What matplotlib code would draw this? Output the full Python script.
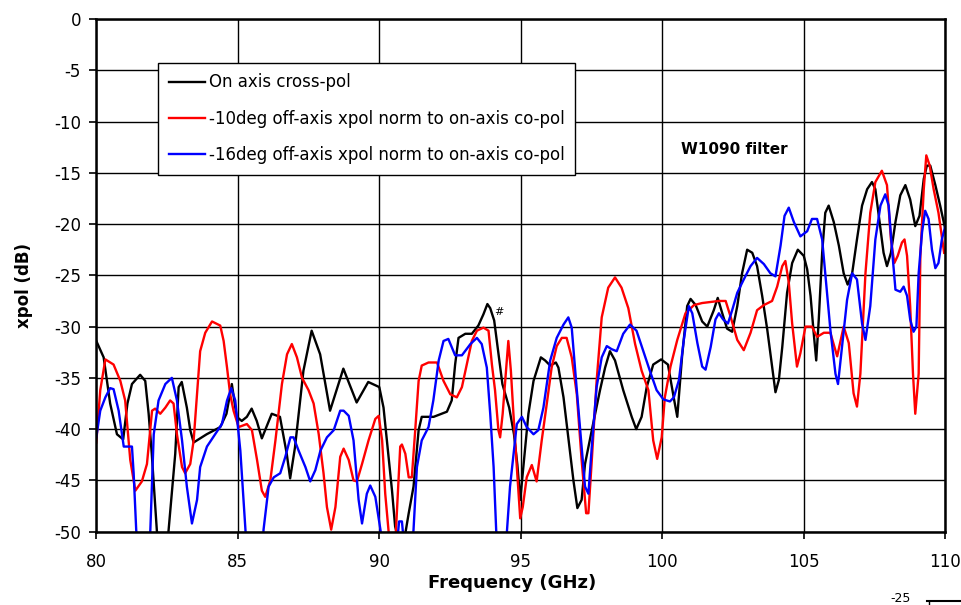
import matplotlib
matplotlib.use("Agg")
import matplotlib.pyplot as plt
from matplotlib.lines import Line2D

## cross-pol of the W1090 filter, three measurements
## values read off the original Excel plot (below -50 just runs off the axis)

freq_onaxis = [80.0, 80.26, 80.49, 80.73, 80.95, 81.1, 81.26, 81.55, 81.73, 81.85,
               81.96, 82.14, 82.3, 82.45, 82.55, 82.79, 82.91, 83.02, 83.2, 83.32,
               83.44, 83.9, 84.38, 84.6, 84.79, 84.96, 85.14, 85.32, 85.49, 85.67,
               85.85, 86.2, 86.49, 86.73, 86.85, 87.02, 87.32, 87.61, 87.91, 88.26,
               88.73, 89.2, 89.61, 90.0, 90.15, 90.3, 90.45, 90.56, 90.7, 90.9,
               91.04, 91.21, 91.39, 91.5, 91.92, 92.39, 92.56, 92.68, 92.8, 93.04,
               93.27, 93.5, 93.68, 93.82, 93.92, 94.06, 94.35, 94.59, 94.76, 94.88,
               94.98, 95.09, 95.27, 95.45, 95.71, 95.86, 96.04, 96.24, 96.33, 96.51,
               96.68, 96.86, 97.0, 97.15, 97.27, 97.51, 97.8, 97.98, 98.15, 98.33,
               98.62, 98.92, 99.08, 99.27, 99.45, 99.68, 99.96, 100.2, 100.41, 100.53,
               100.7, 100.88, 101.0, 101.18, 101.41, 101.59, 101.82, 101.96, 102.12, 102.29,
               102.47, 102.65, 102.82, 103.0, 103.18, 103.35, 103.53, 103.71, 103.88, 104.0,
               104.12, 104.24, 104.41, 104.59, 104.79, 105.0, 105.12, 105.24, 105.35, 105.44,
               105.53, 105.65, 105.76, 105.88, 106.06, 106.24, 106.41, 106.55, 106.71, 106.88,
               107.06, 107.24, 107.41, 107.53, 107.68, 107.82, 107.94, 108.08, 108.24, 108.41,
               108.59, 108.76, 108.94, 109.09, 109.24, 109.35, 109.47, 109.65, 109.82, 110.0]
xpol_onaxis = [-31.4, -33.0, -37.5, -40.5, -41.0, -37.5, -35.6, -34.7, -35.3, -38.5,
               -42.4, -49.9, -53.0, -53.0, -50.0, -42.4, -35.9, -35.4, -37.9, -40.1,
               -41.3, -40.5, -39.8, -38.5, -35.6, -38.8, -39.2, -38.8, -38.0, -39.2,
               -40.9, -38.5, -38.8, -42.4, -44.8, -41.8, -34.3, -30.4, -32.7, -38.2,
               -34.1, -37.4, -35.4, -35.9, -37.9, -42.0, -46.0, -49.5, -51.0, -50.5,
               -48.2, -45.6, -40.1, -38.8, -38.8, -38.3, -37.2, -33.7, -31.1, -30.7,
               -30.7, -29.9, -28.8, -27.8, -28.2, -29.4, -35.6, -37.9, -40.5, -43.5,
               -46.9, -43.7, -38.5, -35.3, -33.0, -33.3, -33.8, -33.5, -34.0, -36.9,
               -40.8, -45.0, -47.7, -46.9, -43.4, -40.1, -36.2, -34.0, -32.4, -33.3,
               -36.2, -38.8, -40.0, -38.8, -35.9, -33.7, -33.2, -33.7, -37.0, -38.8,
               -32.9, -28.0, -27.3, -27.9, -29.5, -30.0, -28.4, -27.2, -28.7, -30.2,
               -30.5, -28.0, -24.8, -22.5, -22.8, -24.1, -27.0, -30.3, -33.9, -36.4,
               -35.2, -32.0, -26.7, -23.8, -22.5, -23.1, -24.4, -27.0, -30.6, -33.3,
               -29.3, -22.8, -18.9, -18.2, -19.8, -22.1, -24.8, -25.9, -24.8, -21.5,
               -18.2, -16.6, -15.9, -16.6, -19.8, -22.8, -24.1, -22.8, -19.8, -17.2,
               -16.2, -17.6, -20.2, -19.2, -15.6, -14.3, -14.3, -16.2, -18.2, -20.5]

freq_10deg = [80.0, 80.14, 80.32, 80.61, 80.85, 81.02, 81.2, 81.38, 81.61, 81.79,
              81.97, 82.08, 82.26, 82.44, 82.61, 82.73, 82.85, 83.03, 83.14, 83.32,
              83.44, 83.56, 83.67, 83.85, 84.09, 84.38, 84.5, 84.62, 84.73, 84.85,
              85.03, 85.32, 85.5, 85.68, 85.85, 85.97, 86.15, 86.33, 86.56, 86.74,
              86.91, 87.09, 87.27, 87.5, 87.68, 87.86, 88.03, 88.15, 88.3, 88.45,
              88.62, 88.74, 88.92, 89.09, 89.21, 89.39, 89.62, 89.86, 89.98, 90.1,
              90.21, 90.33, 90.45, 90.55, 90.62, 90.74, 90.8, 90.92, 91.04, 91.15,
              91.27, 91.39, 91.5, 91.74, 92.04, 92.27, 92.51, 92.74, 92.92, 93.09,
              93.27, 93.45, 93.68, 93.86, 93.98, 94.09, 94.21, 94.27, 94.36, 94.48,
              94.56, 94.65, 94.74, 94.86, 94.98, 95.07, 95.21, 95.39, 95.56, 95.74,
              95.92, 96.09, 96.27, 96.45, 96.62, 96.8, 96.98, 97.15, 97.31, 97.39,
              97.51, 97.68, 97.86, 98.09, 98.33, 98.56, 98.8, 99.04, 99.27, 99.51,
              99.68, 99.82, 99.98, 100.09, 100.29, 100.53, 100.82, 101.12, 101.41, 101.71,
              102.0, 102.24, 102.41, 102.65, 102.88, 103.12, 103.35, 103.59, 103.88, 104.06,
              104.24, 104.35, 104.47, 104.59, 104.76, 104.88, 105.06, 105.29, 105.47, 105.71,
              105.94, 106.18, 106.41, 106.59, 106.76, 106.88, 107.0, 107.18, 107.35, 107.53,
              107.76, 107.94, 108.08, 108.2, 108.32, 108.47, 108.56, 108.65, 108.76, 108.86,
              108.94, 109.06, 109.12, 109.24, 109.33, 109.45, 109.59, 109.76, 109.96]
xpol_10deg = [-41.3, -36.2, -33.2, -33.7, -35.3, -37.2, -43.0, -46.0, -45.1, -43.4,
              -38.2, -38.0, -38.5, -37.9, -37.2, -37.5, -40.5, -43.7, -44.3, -43.4,
              -41.1, -36.6, -32.4, -30.6, -29.5, -29.9, -31.4, -34.0, -36.6, -38.2,
              -39.8, -39.5, -40.1, -43.0, -46.0, -46.6, -45.0, -41.1, -35.6, -32.7,
              -31.7, -33.0, -35.0, -36.2, -37.5, -40.5, -44.3, -47.6, -49.8, -47.6,
              -42.7, -41.9, -43.0, -45.0, -45.1, -43.4, -41.1, -39.0, -38.7, -41.1,
              -46.3, -50.0, -52.0, -52.0, -48.2, -41.7, -41.5, -42.4, -44.7, -44.7,
              -40.1, -35.3, -33.8, -33.5, -33.5, -35.3, -36.6, -36.9, -35.9, -33.7,
              -31.4, -30.4, -30.1, -30.4, -33.7, -36.2, -40.1, -40.8, -38.5, -34.3,
              -31.4, -34.3, -38.5, -43.7, -48.7, -47.6, -44.7, -43.5, -45.1, -41.1,
              -37.5, -34.0, -31.9, -31.1, -31.1, -33.0, -36.6, -43.0, -48.2, -48.2,
              -43.0, -35.3, -29.1, -26.2, -25.2, -26.2, -28.2, -31.7, -34.3, -36.2,
              -41.1, -42.9, -40.8, -36.9, -33.9, -31.3, -28.7, -27.9, -27.7, -27.6,
              -27.5, -27.5, -29.0, -31.3, -32.3, -30.6, -28.4, -27.9, -27.5, -26.1,
              -24.1, -23.6, -25.7, -29.7, -33.9, -32.6, -30.0, -30.0, -31.0, -30.6,
              -30.6, -32.9, -30.0, -31.6, -36.5, -37.8, -34.6, -24.8, -18.9, -15.9,
              -14.8, -16.2, -21.5, -23.8, -23.1, -21.8, -21.5, -23.1, -28.0, -34.6,
              -38.5, -34.6, -23.1, -16.6, -13.3, -14.3, -16.6, -18.9, -22.8]

freq_16deg = [80.0, 80.14, 80.32, 80.49, 80.61, 80.79, 80.97, 81.26, 81.32, 81.41,
              81.5, 81.85, 81.91, 82.03, 82.2, 82.44, 82.67, 82.85, 83.03, 83.2,
              83.38, 83.56, 83.67, 83.91, 84.2, 84.44, 84.62, 84.77, 84.91, 85.09,
              85.27, 85.35, 85.85, 85.91, 86.09, 86.27, 86.5, 86.68, 86.86, 86.97,
              87.15, 87.39, 87.56, 87.74, 87.92, 88.15, 88.39, 88.62, 88.74, 88.92,
              89.09, 89.27, 89.39, 89.56, 89.68, 89.86, 90.04, 90.15, 90.6, 90.7,
              90.8, 90.9, 91.15, 91.21, 91.33, 91.5, 91.74, 91.91, 92.1, 92.27,
              92.44, 92.68, 92.92, 93.22, 93.45, 93.62, 93.8, 93.92, 94.04, 94.13,
              94.2, 94.45, 94.51, 94.62, 94.86, 95.04, 95.21, 95.45, 95.62, 95.8,
              96.04, 96.27, 96.51, 96.68, 96.8, 96.98, 97.15, 97.27, 97.39, 97.51,
              97.68, 97.86, 98.04, 98.21, 98.39, 98.62, 98.86, 99.09, 99.33, 99.56,
              99.8, 100.04, 100.27, 100.41, 100.59, 100.76, 100.94, 101.06, 101.24, 101.41,
              101.53, 101.71, 101.88, 102.0, 102.15, 102.32, 102.47, 102.65, 102.88, 103.12,
              103.35, 103.59, 103.82, 104.0, 104.18, 104.32, 104.47, 104.65, 104.88, 105.12,
              105.29, 105.47, 105.65, 105.76, 105.94, 106.12, 106.21, 106.35, 106.53, 106.71,
              106.88, 107.06, 107.18, 107.35, 107.53, 107.71, 107.88, 108.0, 108.12, 108.24,
              108.41, 108.53, 108.65, 108.76, 108.88, 108.98, 109.06, 109.18, 109.29, 109.41,
              109.53, 109.65, 109.76, 109.88, 110.0]
xpol_16deg = [-40.8, -38.2, -36.9, -36.0, -36.1, -38.2, -41.7, -41.7, -44.3, -49.8,
              -53.0, -53.0, -49.8, -40.5, -37.2, -35.6, -35.0, -37.2, -41.1, -45.6,
              -49.2, -46.9, -43.7, -41.7, -40.5, -39.5, -37.2, -36.0, -37.2, -42.1,
              -49.8, -53.0, -53.0, -49.8, -45.6, -44.7, -44.3, -42.7, -40.8, -40.8,
              -42.1, -43.7, -45.1, -44.0, -42.1, -40.8, -40.1, -38.2, -38.2, -38.7,
              -41.1, -46.9, -49.2, -46.3, -45.5, -46.6, -49.8, -52.0, -52.0, -49.0,
              -49.0, -52.0, -52.0, -49.8, -43.7, -41.1, -39.8, -37.2, -33.3, -31.4,
              -31.2, -32.8, -32.8, -31.7, -31.1, -31.7, -34.0, -38.5, -43.7, -49.8,
              -53.0, -53.0, -50.0, -45.6, -39.5, -38.8, -39.8, -40.5, -40.1, -37.9,
              -33.3, -31.1, -29.8, -29.1, -30.1, -36.2, -41.7, -45.6, -46.3, -41.7,
              -35.9, -33.0, -31.9, -32.2, -32.4, -30.7, -29.8, -30.4, -32.4, -34.3,
              -36.2, -37.1, -37.3, -36.9, -35.2, -31.3, -28.0, -28.7, -31.6, -33.9,
              -34.2, -32.0, -29.3, -28.7, -29.3, -29.7, -28.4, -26.7, -25.4, -24.1,
              -23.3, -23.9, -24.8, -25.1, -22.1, -19.2, -18.4, -19.8, -21.2, -20.7,
              -19.5, -19.5, -21.5, -24.8, -30.3, -34.6, -35.6, -32.0, -27.4, -24.8,
              -25.4, -29.7, -31.3, -28.0, -21.5, -18.2, -17.1, -18.2, -22.5, -26.4,
              -26.6, -26.1, -27.0, -29.3, -30.5, -30.0, -24.8, -20.8, -18.7, -19.5,
              -22.5, -24.3, -23.8, -21.5, -20.2]

series_labels = ["On axis cross-pol",
                 "-10deg off-axis xpol norm to on-axis co-pol",
                 "-16deg off-axis xpol norm to on-axis co-pol"]

fig = plt.figure(figsize=(9.62, 6.05), dpi=100)
ax = fig.add_axes([0.1001, 0.1212, 0.8825, 0.8474])

ax.plot(freq_onaxis, xpol_onaxis, color='black', lw=1.7, label=series_labels[0])
ax.plot(freq_10deg, xpol_10deg, color='#ff0000', lw=1.7, label=series_labels[1])
ax.plot(freq_16deg, xpol_16deg, color='#0000ff', lw=1.7, label=series_labels[2])

ax.set_xlim(80, 110)
ax.set_ylim(-50, 0)
ax.set_xticks(range(80, 111, 5))
ax.set_yticks(range(-50, 1, 5))
ax.set_yticklabels([str(v) for v in range(-50, 1, 5)])
ax.grid(True, color='black', lw=1.0)
ax.set_axisbelow(True)
for s in ax.spines.values():
    s.set_linewidth(1.8)
ax.tick_params(axis='both', direction='out', length=5, width=1.2, labelsize=12)
ax.tick_params(axis='x', pad=10)
ax.tick_params(axis='y', pad=6)

ax.set_xlabel('Frequency (GHz)', fontsize=13, fontweight='bold')
ax.xaxis.set_label_coords(0.49, -0.083)
ax.set_ylabel('xpol (dB)', fontsize=12, fontweight='bold')
ax.yaxis.set_label_coords(-0.074, 0.48)

ax.text(94.07, -28.6, '#', fontsize=8, ha='left', va='center')
ax.text(102.55, -12.7, 'W1090 filter', fontsize=11, fontweight='bold', ha='center', va='center')

leg = ax.legend(loc='upper left', bbox_to_anchor=(0.0726, 0.915), fontsize=12,
                frameon=True, fancybox=False, framealpha=1, edgecolor='black',
                handlelength=2.2, handletextpad=0.2, labelspacing=1.1,
                borderpad=0.65, borderaxespad=0)
leg.get_frame().set_linewidth(1.0)

# bit of the next chart peeking in at the lower right
fig.text(0.936, 0.0, '-25', fontsize=9, ha='center', va='bottom')
fig.add_artist(Line2D([0.964, 1.0], [0.007, 0.007], transform=fig.transFigure,
                      color='black', lw=1.5))
fig.add_artist(Line2D([0.966, 0.966], [0.0, 0.007], transform=fig.transFigure,
                      color='black', lw=1.0))

fig.savefig('out.png', dpi=100)
